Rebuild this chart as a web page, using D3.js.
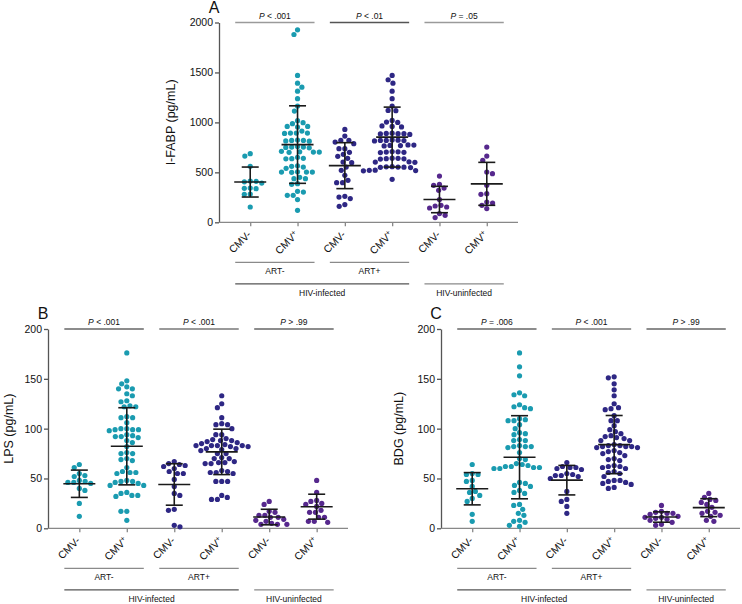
<!DOCTYPE html>
<html><head><meta charset="utf-8">
<script src="https://cdn.jsdelivr.net/npm/d3@7"></script>
<style>
body{margin:0;background:#fff}
svg{display:block}
text{font-family:"Liberation Sans",Arial,Helvetica,sans-serif;fill:#111}
</style>
</head><body>
<svg id="chart" width="742" height="604"></svg>
<script>
// ---------------- DATA ----------------
const categories = ["CMV-","CMV+","CMV-","CMV+","CMV-","CMV+"];
const artLabels = ["ART-","ART+"];
const hivLabels = ["HIV-infected","HIV-uninfected"];
const groupColors = ["#1a9bb0","#1a9bb0","#2e2784","#2e2784","#56288d","#56288d"];

const ifabpTicks = [0,500,1000,1500,2000];
const biomarkerTicks = [0,50,100,150,200];

// Panel A: I-FABP (pg/mL)
const ifabpArtNegCmvNeg = [687,663,560,413,410,405,393,343,340,337,283,280,153];
const ifabpArtNegCmvPos = [1927,1880,1470,1393,1353,1313,1237,1163,1113,1017,997,987,960,953,960,
  913,893,893,893,890,823,820,815,820,812,760,753,753,750,745,705,703,700,703,710,
  640,637,635,650,565,560,553,540,505,503,500,503,503,437,437,450,387,380,303,310,270,270,227,120];
const ifabpArtPosCmvNeg = [930,863,820,820,803,787,737,737,700,680,660,640,603,597,553,520,470,420,397,397,260,253,237,177,160];
const ifabpArtPosCmvPos = [1470,1427,1393,1313,1237,1163,1120,1117,1020,1003,1000,965,960,955,
  890,887,885,887,880,892,825,820,818,822,815,820,773,770,768,775,765,705,703,700,708,698,
  640,637,635,642,633,605,603,600,555,553,550,557,552,548,522,520,518,515,430];
const ifabpUninfCmvNeg = [463,380,370,343,320,227,170,163,153,143,87,70,47];
const ifabpUninfCmvPos = [753,663,620,503,487,370,287,280,203,193,170,137];
const ifabpMeans = [403,778,567,853,228,385];
const ifabpSDs = [150,388,230,300,132,215];
const ifabpP = ["< .001","< .01","= .05"];

// Panel B: LPS (pg/mL)
const lpsArtNegCmvNeg = [64,61,55,53,52,48,47,46,46,45,40,38,25,12];
const lpsArtNegCmvPos = [176,148,145,142,140,140,135,133,128,127,123,122,122,112,111,111,106,
  100,100,99,99,99,98,94,93,92,92,91,88,86,82,76,75,75,70,69,68,61,57,56,56,55,
  48,47,46,45,47,43,43,35,33,32,33,36,17,17,8];
const lpsArtPosCmvNeg = [67,65,64,63,62,60,57,55,55,49,42,35,33,19,18,3,1.5];
const lpsArtPosCmvPos = [133,125,121,111,105,104,104,100,94,94,90,89,88,88,87,86,85,
  84,83,83,83,82,82,83,80,80,79,78,75,75,71,70,70,67,66,66,65,65,58,57,56,56,55,47,47,47,33,31,29,29];
const lpsUninfCmvNeg = [27,24,17,16,13,13,11,11,9,7,8,4,4,5,4];
const lpsUninfCmvPos = [48,36,28,27,25,24,22,18,16,16,11,11,7,7,6];
const lpsMeans = [44.7,82.3,44,76.7,11.3,21.7];
const lpsSDs = [13.7,38.7,20.8,22.8,7.8,12.5];
const lpsP = ["< .001","< .001","> .99"];

// Panel C: BDG (pg/mL)
const bdgArtNegCmvNeg = [64,55,54,54,48,47,42,37,36,33,30,27,14,7];
const bdgArtNegCmvPos = [176,162,153,136,134,133,124,122,121,120,110,109,108,108,104,100,96,95,94,
  89,88,88,83,82,82,82,81,76,70,69,65,63,62,61,61,60,60,62,64,46,45,43,42,38,36,35,
  24,23,19,15,13,8,7,6,3,2];
const bdgArtPosCmvNeg = [66,62,61,61,60,59,55,54,53,53,52,50,37,29,27,22,15];
const bdgArtPosCmvPos = [152,151,145,139,133,125,121,120,119,113,108,108,103,99,97,95,93,92,91,90,88,88,
  84,83,82,82,81,81,82,83,78,77,76,75,73,70,69,68,63,62,62,61,60,57,56,55,52,48,48,47,46,45,44,41,40];
const bdgUninfCmvNeg = [23,17,16,15,15,14,12,11,11,10,9,8,6,4,3];
const bdgUninfCmvPos = [35,31,29,28,26,24,21,17,16,15,13,12,8,7];
const bdgMeans = [39.7,71.3,48.3,84,11.3,20.7];
const bdgSDs = [16.2,41.7,14.8,29.2,5.2,9];
const bdgP = ["= .006","< .001","> .99"];

// ---------------- LAYOUT ----------------
const panels = [
  {letter:"A", title:"I-FABP (pg/mL)", ticks:ifabpTicks, max:2000,
   groups:[ifabpArtNegCmvNeg,ifabpArtNegCmvPos,ifabpArtPosCmvNeg,ifabpArtPosCmvPos,ifabpUninfCmvNeg,ifabpUninfCmvPos],
   means:ifabpMeans, sds:ifabpSDs, p:ifabpP,
   xr:[219,518], yr:[222.3,22.5], titleX:174.5, pColors:["#9a9a9a","#555","#9a9a9a"]},
  {letter:"B", title:"LPS (pg/mL)", ticks:biomarkerTicks, max:200,
   groups:[lpsArtNegCmvNeg,lpsArtNegCmvPos,lpsArtPosCmvNeg,lpsArtPosCmvPos,lpsUninfCmvNeg,lpsUninfCmvPos],
   means:lpsMeans, sds:lpsSDs, p:lpsP,
   xr:[48,348], yr:[528.3,329], titleX:12.5, pColors:["#666","#777","#666"]},
  {letter:"C", title:"BDG (pg/mL)", ticks:biomarkerTicks, max:200,
   groups:[bdgArtNegCmvNeg,bdgArtNegCmvPos,bdgArtPosCmvNeg,bdgArtPosCmvPos,bdgUninfCmvNeg,bdgUninfCmvPos],
   means:bdgMeans, sds:bdgSDs, p:bdgP,
   xr:[441,740], yr:[528.3,329], titleX:403, pColors:["#666","#777","#666"]}
];

const svg = d3.select("#chart");
const R = 2.6, D = 5.9;

function swarm(vals, y) {
  const pts = vals.map(v => ({v, y:y(v), x:0})).sort((a,b) => a.y - b.y);
  const placed = [];
  let flip = false;
  for (const p of pts) {
    const iv = [];
    for (const q of placed) {
      const dy = p.y - q.y;
      if (Math.abs(dy) < D) { const w = Math.sqrt(D*D - dy*dy); iv.push([q.x - w, q.x + w]); }
    }
    const cands = [0];
    iv.forEach(([a,b]) => cands.push(a,b));
    cands.sort((a,b) => (Math.abs(a) - Math.abs(b)) || (flip ? b - a : a - b));
    for (const c of cands) {
      if (iv.every(([a,b]) => c <= a + 1e-6 || c >= b - 1e-6)) { p.x = c; break; }
    }
    if (p.x !== 0) flip = !flip;
    placed.push(p);
  }
  return pts;
}

function drawPanel(P) {
  const g = svg.append("g");
  const x = d3.scalePoint().domain(d3.range(categories.length)).range(P.xr).padding(0.66);
  const y = d3.scaleLinear().domain([0, P.max]).range(P.yr);
  const y0 = y(0), yTop = y(P.max);

  // Y axis
  const ya = g.append("g").attr("transform", `translate(${P.xr[0]},0)`)
    .call(d3.axisLeft(y).tickValues(P.ticks).tickFormat(d3.format("d"))
      .tickSize(4).tickSizeOuter(0).tickPadding(2));
  ya.select(".domain").attr("stroke", "#555").attr("stroke-width", 1.3);
  ya.selectAll(".tick line").attr("stroke", "#555").attr("stroke-width", 1.3);
  ya.selectAll(".tick text").attr("font-size", 10.5).attr("fill", "#111")
    .attr("font-family", '"Liberation Sans",Arial,sans-serif');

  // X axis
  const xa = g.append("g").attr("transform", `translate(0,${y0})`)
    .call(d3.axisBottom(x).tickSize(4).tickSizeOuter(0).tickFormat(""));
  xa.select(".domain").attr("stroke", "#888").attr("stroke-width", 1.3)
    .attr("d", `M${P.xr[0]},0H${P.xr[1]}`);
  xa.selectAll(".tick line").attr("stroke", "#888").attr("stroke-width", 1.3);

  // Category labels
  categories.forEach((c, i) => {
    const t = g.append("text").attr("text-anchor", "end").attr("font-size", 10.5)
      .attr("transform", `translate(${x(i) + 1.5},${y0 + 13}) rotate(-45)`);
    t.append("tspan").text(c.slice(0, 3));
    if (c.endsWith("+")) t.append("tspan").attr("font-size", 7.5).attr("dy", -3.5).text("+");
    else t.append("tspan").text("-");
  });

  // Group lines and labels
  const lx0 = i => x(i) - 15, lx1 = i => x(i) + 17;
  artLabels.forEach((a, k) => {
    const i0 = 2 * k, i1 = 2 * k + 1;
    g.append("line").attr("x1", lx0(i0)).attr("x2", lx1(i1)).attr("y1", y0 + 40).attr("y2", y0 + 40)
      .attr("stroke", "#8a8a8a").attr("stroke-width", 1.2);
    g.append("text").attr("x", (lx0(i0) + lx1(i1)) / 2).attr("y", y0 + 51.5).attr("text-anchor", "middle")
      .attr("font-size", 8.5).text(a);
  });
  [[0,3],[4,5]].forEach(([i0,i1], k) => {
    g.append("line").attr("x1", lx0(i0)).attr("x2", lx1(i1)).attr("y1", y0 + 61.5).attr("y2", y0 + 61.5)
      .attr("stroke", k === 0 ? "#555" : "#8a8a8a").attr("stroke-width", 1.2);
    g.append("text").attr("x", (lx0(i0) + lx1(i1)) / 2).attr("y", y0 + 73.5).attr("text-anchor", "middle")
      .attr("font-size", 8.5).text(hivLabels[k]);
  });

  // P-value lines
  P.p.forEach((s, k) => {
    const i0 = 2 * k, i1 = 2 * k + 1;
    g.append("line").attr("x1", lx0(i0)).attr("x2", lx1(i1)).attr("y1", yTop).attr("y2", yTop)
      .attr("stroke", P.pColors[k]).attr("stroke-width", 1.3);
    const t = g.append("text").attr("x", (lx0(i0) + lx1(i1)) / 2).attr("y", yTop - 4)
      .attr("text-anchor", "middle").attr("font-size", 8.5);
    t.append("tspan").attr("font-style", "italic").text("P");
    t.append("tspan").text(" " + s);
  });

  // Dots
  P.groups.forEach((vals, i) => {
    const pts = swarm(vals, y);
    g.append("g").selectAll("circle").data(pts).join("circle")
      .attr("cx", d => x(i) + d.x).attr("cy", d => d.y).attr("r", R)
      .attr("fill", groupColors[i]);
  });

  // Mean ± SD
  P.means.forEach((m, i) => {
    const cx = x(i), s = P.sds[i];
    const eb = g.append("g").attr("stroke", "#1a1a1a").attr("stroke-width", 1.6);
    eb.append("line").attr("x1", cx - 16).attr("x2", cx + 16).attr("y1", y(m)).attr("y2", y(m));
    eb.append("line").attr("x1", cx).attr("x2", cx).attr("y1", y(m - s)).attr("y2", y(m + s));
    [m - s, m + s].forEach(v => eb.append("line").attr("x1", cx - 8.5).attr("x2", cx + 8.5)
      .attr("y1", y(v)).attr("y2", y(v)));
  });

  // Y title
  g.append("text").attr("transform", `translate(${P.titleX},${(y0 + yTop) / 2}) rotate(-90)`)
    .attr("text-anchor", "middle").attr("font-size", 12.5).text(P.title);

  // Panel letter
  g.append("text").attr("x", P.xr[0] - 5).attr("y", yTop - 10).attr("text-anchor", "middle")
    .attr("font-size", 16).text(P.letter);
}

panels.forEach(drawPanel);
</script>
</body></html>
